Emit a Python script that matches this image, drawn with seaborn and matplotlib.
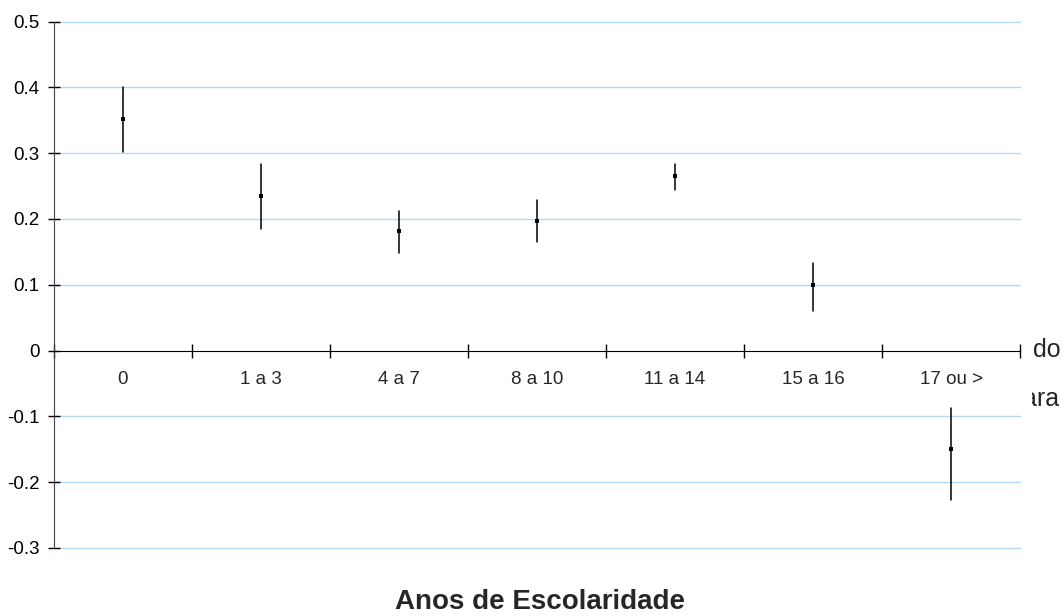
import matplotlib
matplotlib.use("Agg")
import matplotlib.pyplot as plt
from matplotlib.transforms import Bbox
import seaborn as sns
import pandas as pd
import numpy as np

# dados (limite inferior, estimativa, limite superior)
categorias = ['0', '1 a 3', '4 a 7', '8 a 10', '11 a 14', '15 a 16', '17 ou >']
estimativa = [0.352, 0.235, 0.182, 0.197, 0.266, 0.099, -0.149]
lim_inf = [0.302, 0.185, 0.149, 0.165, 0.244, 0.060, -0.227]
lim_sup = [0.400, 0.283, 0.212, 0.229, 0.284, 0.133, -0.087]
y_ticks = [-0.3, -0.2, -0.1, 0, 0.1, 0.2, 0.3, 0.4, 0.5]

# três valores por categoria: mediana = estimativa, faixa total = intervalo
df = pd.DataFrame({
    'cat': np.repeat(categorias, 3),
    'val': np.column_stack([lim_inf, estimativa, lim_sup]).ravel(),
})

sns.set_style("white")
plt.rcParams['font.family'] = ['Liberation Sans', 'DejaVu Sans']

fig = plt.figure(figsize=(10.64, 6.16), dpi=100)
ax = fig.add_axes([54 / 1064, 1 - 548 / 616, (1020 - 54) / 1064, (548 - 21.5) / 616])

sns.pointplot(data=df, x='cat', y='val', order=categorias, estimator='median',
              errorbar=('pi', 100), linestyle='none', marker='s', markersize=2.2,
              markeredgewidth=0, color='black', err_kws={'linewidth': 1.1}, ax=ax)

ax.set_ylim(-0.3, 0.5)
ax.set_xlim(-0.5, len(categorias) - 0.5)

# grade horizontal azul clara
for v in y_ticks:
    if v != 0:
        ax.axhline(v, color='#b4d7f5', linewidth=1, zorder=0, clip_on=False)

ax.set_yticks(y_ticks)
ax.set_yticklabels([f'{v:g}' for v in y_ticks], fontsize=13.5)
ax.tick_params(axis='y', left=True, direction='inout', length=9, width=1, colors='black', pad=6)

# eixo x passando no zero, marcas nas divisões das categorias
ax.spines['bottom'].set_position(('data', 0))
ax.spines['bottom'].set_color('black')
ax.spines['left'].set_color('#444444')
ax.spines['top'].set_visible(False)
ax.spines['right'].set_visible(False)
ax.set_xticks(np.arange(len(categorias) + 1) - 0.5)
ax.set_xticklabels([])
ax.set_xticks(np.arange(len(categorias)), minor=True)
ax.set_xticklabels(categorias, minor=True, fontsize=13.5)
ax.tick_params(axis='x', which='major', bottom=True, direction='inout', length=10, width=1,
               colors='black')
ax.tick_params(axis='x', which='minor', bottom=True, length=0, pad=15)
ax.set_xlabel('')
ax.set_ylabel('')

fig.text(540 / 1064, 1 - 609 / 616, 'Anos de Escolaridade', ha='center', va='baseline',
         fontsize=20, fontweight='bold')

# texto da legenda cortado na borda direita
t1 = fig.text(1033 / 1064, 1 - 357 / 616, 'do', ha='left', va='baseline', fontsize=18)
t2 = fig.text(1023 / 1064, 1 - 406 / 616, 'ara', ha='left', va='baseline', fontsize=18)
for t in (t1, t2):
    t.set_clip_on(True)
    t.set_clip_box(Bbox.from_extents(1032, 0, 1064, 616))

fig.savefig('out.png', dpi=100)
